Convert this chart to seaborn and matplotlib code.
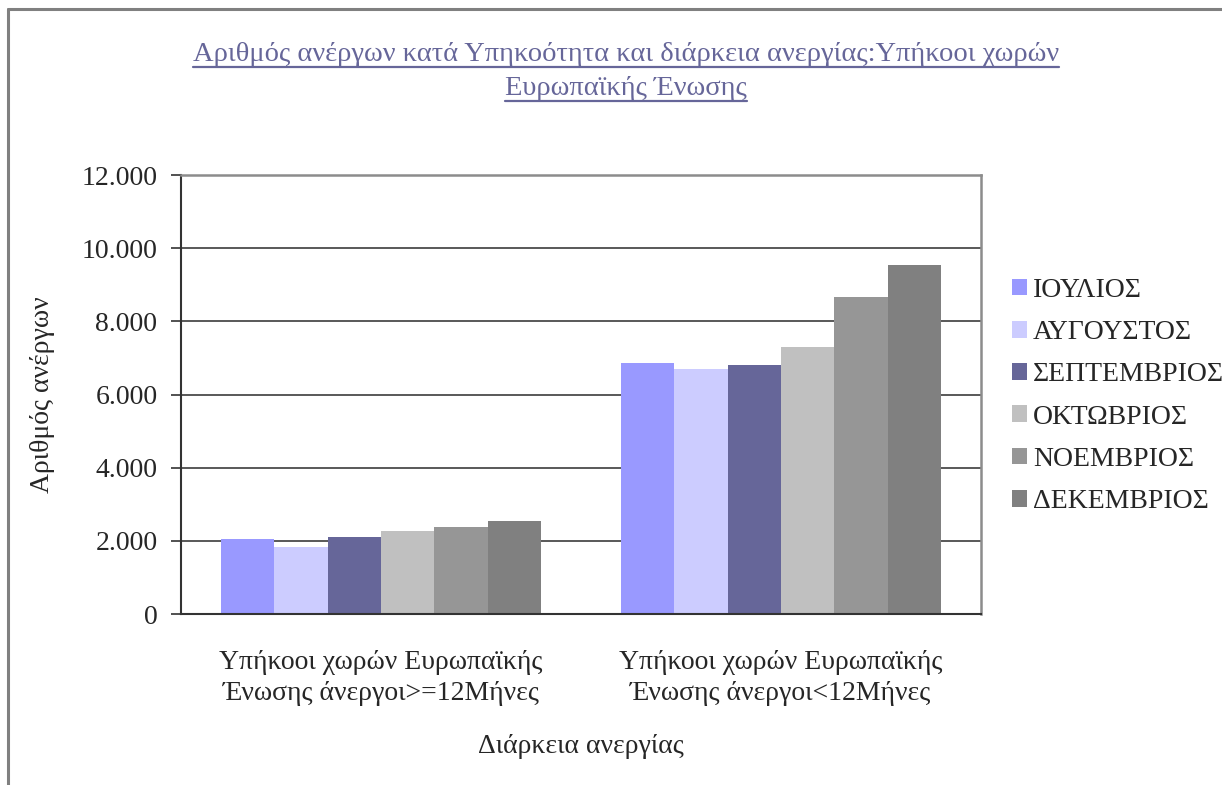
import matplotlib
matplotlib.use("Agg")
import matplotlib.pyplot as plt
import seaborn as sns
import pandas as pd
from matplotlib.ticker import FuncFormatter, FixedLocator
from matplotlib.lines import Line2D

# Data
categories = [
    "Υπήκοοι χωρών Ευρωπαϊκής\nΈνωσης άνεργοι>=12Μήνες",
    "Υπήκοοι χωρών Ευρωπαϊκής\nΈνωσης άνεργοι<12Μήνες",
]
months = ["ΙΟΥΛΙΟΣ", "ΑΥΓΟΥΣΤΟΣ", "ΣΕΠΤΕΜΒΡΙΟΣ", "ΟΚΤΩΒΡΙΟΣ", "ΝΟΕΜΒΡΙΟΣ", "ΔΕΚΕΜΒΡΙΟΣ"]
long_term = [2050, 1830, 2105, 2270, 2380, 2540]
short_term = [6860, 6700, 6810, 7300, 8670, 9540]
colors = ["#9999FF", "#CCCCFF", "#666699", "#C0C0C0", "#969696", "#808080"]

title_lines = ["Αριθμός ανέργων κατά Υπηκοότητα και διάρκεια ανεργίας:Υπήκοοι χωρών",
               "Ευρωπαϊκής Ένωσης"]
y_label = "Αριθμός ανέργων"
x_label = "Διάρκεια ανεργίας"

df = pd.DataFrame({
    "category": [categories[0]] * len(months) + [categories[1]] * len(months),
    "month": months * 2,
    "value": long_term + short_term,
})

sns.set_style("white")
plt.rcParams["font.family"] = ["Liberation Serif", "DejaVu Serif"]

W, H = 1222, 785
fig = plt.figure(figsize=(W / 100, H / 100), dpi=100)
ax = fig.add_axes([181 / W, 1 - 614 / H, 800 / W, 439 / H])

sns.barplot(data=df, x="category", y="value", hue="month", hue_order=months,
            order=categories, palette=colors, width=0.8, saturation=1,
            edgecolor="none", linewidth=0, ax=ax, legend=True)

ax.set_xlim(-0.5, 1.5)
ax.set_ylim(0, 12000)
ax.yaxis.set_major_locator(FixedLocator(range(0, 12001, 2000)))
ax.yaxis.set_major_formatter(FuncFormatter(lambda v, p: f"{int(v):,}".replace(",", ".")))
ax.grid(axis="y", color="#2b2b2b", linewidth=1.1)
ax.set_axisbelow(True)

# Category labels centred, tick marks at category boundaries
ax.set_xticks([0, 1])
ax.set_xticklabels(categories, fontsize=20, linespacing=1.3)
ax.tick_params(axis="x", which="major", length=0, pad=26)
ax.set_xticks([-0.5, 0.5, 1.5], minor=True)
ax.tick_params(axis="x", which="minor", length=8, width=1.2, color="#333333", direction="out")
ax.tick_params(axis="y", length=7, width=1.2, color="#333333", direction="out",
               labelsize=20, pad=10, left=True)

for s in ["left", "bottom"]:
    ax.spines[s].set_color("#333333")
    ax.spines[s].set_linewidth(1.5)
for s in ["top", "right"]:
    ax.spines[s].set_color("#8c8c8c")
    ax.spines[s].set_linewidth(1.8)
    ax.spines[s].set_visible(True)

ax.set_ylabel(y_label, fontsize=20, labelpad=19)
ax.set_xlabel(x_label, fontsize=20, labelpad=20)

leg = ax.legend(loc="center left", bbox_to_anchor=(1012 / W, 1 - 396 / H),
                bbox_transform=fig.transFigure, frameon=False, fontsize=20,
                handlelength=0.55, handleheight=0.55, handletextpad=0.2,
                labelspacing=0.62, borderaxespad=0, borderpad=0)

# Title with underline
title_color = "#666699"
title_y = [1 - 61 / H, 1 - 95 / H]
fig.canvas.draw()
renderer = fig.canvas.get_renderer()
for line, ty in zip(title_lines, title_y):
    t = fig.text(626 / W, ty, line, ha="center", va="baseline",
                 fontsize=20.5, color=title_color)
    bb = t.get_window_extent(renderer)
    uy = ty - 6 / H
    fig.add_artist(Line2D([bb.x0 / W, bb.x1 / W], [uy, uy], transform=fig.transFigure,
                          color=title_color, linewidth=1.6))

# Outer chart frame
frame = "#808080"
fig.add_artist(Line2D([8 / W, 1.0], [1 - 9 / H, 1 - 9 / H], transform=fig.transFigure,
                      color=frame, linewidth=2.2))
fig.add_artist(Line2D([8 / W, 8 / W], [0.0, 1 - 9 / H], transform=fig.transFigure,
                      color=frame, linewidth=2.2))

fig.savefig("out.png", dpi=100)
